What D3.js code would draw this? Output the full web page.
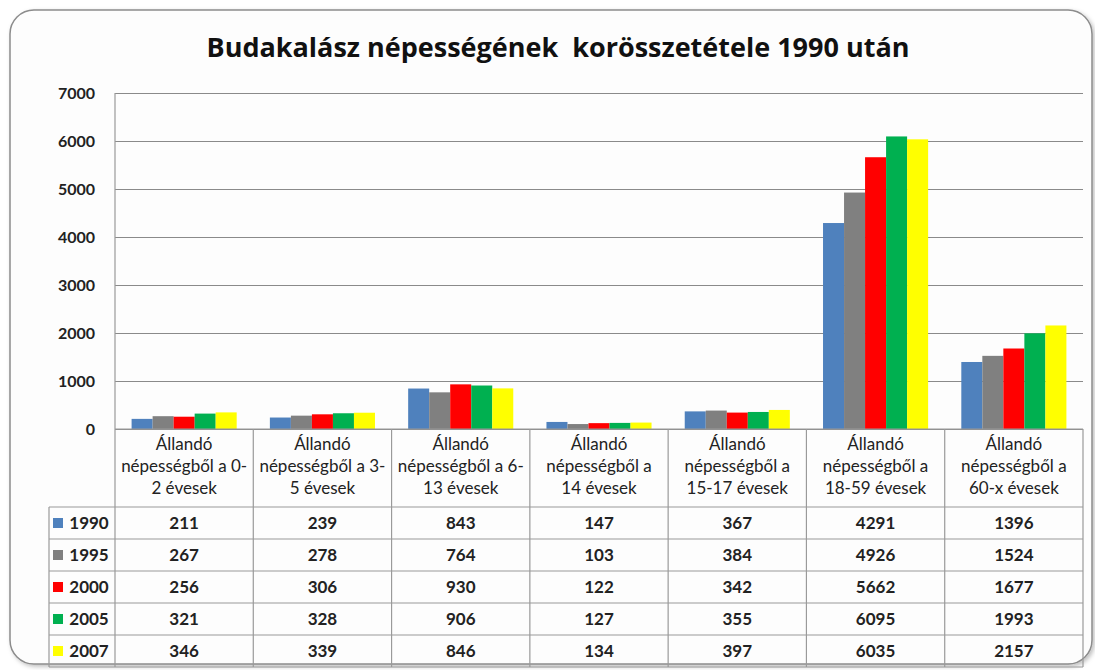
<!DOCTYPE html>
<html>
  <head>
    <meta charset="utf-8">
    <script src="https://d3js.org/d3.v7.min.js"></script>
    <style>
      body { margin: 0; background: #fff; }
    </style>
  </head>
  <body>
    <script>
      // data
      var categories = [
        ["Állandó", "népességből a 0-", "2 évesek"],
        ["Állandó", "népességből a 3-", "5 évesek"],
        ["Állandó", "népességből a 6-", "13 évesek"],
        ["Állandó", "népességből a", "14 évesek"],
        ["Állandó", "népességből a", "15-17 évesek"],
        ["Állandó", "népességből a", "18-59 évesek"],
        ["Állandó", "népességből a", "60-x évesek"]
      ];
      var years = ["1990", "1995", "2000", "2005", "2007"];
      var v1990 = [211, 239, 843, 147, 367, 4291, 1396];
      var v1995 = [267, 278, 764, 103, 384, 4926, 1524];
      var v2000 = [256, 306, 930, 122, 342, 5662, 1677];
      var v2005 = [321, 328, 906, 127, 355, 6095, 1993];
      var v2007 = [346, 339, 846, 134, 397, 6035, 2157];
      var colors = ["#4f81bd", "#808080", "#ff0000", "#00b050", "#ffff00"];
      var yTicks = [0, 1000, 2000, 3000, 4000, 5000, 6000, 7000];

      var series = [v1990, v1995, v2000, v2005, v2007];

      var W = 1095, H = 670;
      var plotLeft = 115, plotRight = 1083, plotTop = 93, base = 429;
      var rowH = 32, headH = 78, legendLeft = 49;
      var font = "Lato, 'Open Sans', sans-serif";

      var svg = d3.select("body").append("svg")
          .attr("width", W)
          .attr("height", H);

      // frame with rounded corners
      var defs = svg.append("defs");
      var f = defs.append("filter").attr("id", "sh")
          .attr("x", "-5%").attr("y", "-5%").attr("width", "110%").attr("height", "110%");
      f.append("feDropShadow").attr("dx", 2).attr("dy", 2)
          .attr("stdDeviation", 2).attr("flood-color", "#000").attr("flood-opacity", 0.25);

      svg.append("rect")
          .attr("x", 10).attr("y", 10)
          .attr("width", 1082).attr("height", 654)
          .attr("rx", 24).attr("ry", 24)
          .attr("fill", "#fdfdfd")
          .attr("stroke", "#8c8c8c")
          .attr("stroke-width", 1.5)
          .attr("filter", "url(#sh)");

      // title
      svg.append("text")
          .attr("x", 558).attr("y", 57)
          .attr("text-anchor", "middle")
          .style("font-family", "'Open Sans', Lato, sans-serif")
          .style("font-weight", "bold")
          .style("font-size", "27px")
          .style("fill", "#111")
          .style("white-space", "pre")
          .text("Budakalász népességének  korösszetétele 1990 után");

      // scales
      var x0 = d3.scaleBand()
          .domain(d3.range(categories.length))
          .range([plotLeft, plotRight])
          .padding(0);
      var bw = x0.bandwidth();
      var x1 = d3.scaleBand()
          .domain(years)
          .range([bw * 0.12, bw * 0.88])
          .padding(0);
      var y = d3.scaleLinear()
          .domain([0, 7000])
          .range([base, plotTop]);

      // gridlines
      svg.append("g")
          .attr("transform", "translate(" + plotLeft + ",0)")
          .call(d3.axisLeft(y).tickValues(yTicks).tickSize(-(plotRight - plotLeft)).tickFormat(""))
          .call(function(g) {
            g.select(".domain").remove();
            g.selectAll("line").attr("stroke", "#8a8a8a").attr("stroke-width", 1);
          });

      // y axis labels
      svg.append("g")
          .attr("transform", "translate(" + plotLeft + ",0)")
          .call(d3.axisLeft(y).tickValues(yTicks).tickSize(0).tickPadding(20).tickFormat(d3.format("d")))
          .call(function(g) {
            g.select(".domain").remove();
            g.selectAll("text")
              .style("font-family", font)
              .style("font-weight", "bold")
              .style("font-size", "16px")
              .style("fill", "#222");
          });

      // bars
      var groups = svg.append("g").selectAll("g")
          .data(categories)
          .join("g")
          .attr("transform", function(d, i) { return "translate(" + x0(i) + ",0)"; });

      groups.selectAll("rect")
          .data(function(d, i) {
            return years.map(function(yr, k) { return {year: yr, k: k, value: series[k][i]}; });
          })
          .join("rect")
          .attr("x", function(d) { return x1(d.year); })
          .attr("width", x1.bandwidth())
          .attr("y", function(d) { return y(d.value); })
          .attr("height", function(d) { return base - y(d.value); })
          .attr("fill", function(d) { return colors[d.k]; });

      // data table
      var tableBottom = base + headH + rowH * years.length;
      var tbl = svg.append("g")
          .attr("stroke", "#9a9a9a")
          .attr("stroke-width", 1.2);

      // horizontal lines
      tbl.append("line")
          .attr("x1", plotLeft).attr("x2", plotRight)
          .attr("y1", base).attr("y2", base);
      d3.range(years.length + 1).forEach(function(r) {
        var yy = base + headH + r * rowH;
        tbl.append("line")
            .attr("x1", legendLeft).attr("x2", plotRight)
            .attr("y1", yy).attr("y2", yy);
      });

      // vertical lines
      tbl.append("line")
          .attr("x1", plotLeft).attr("x2", plotLeft)
          .attr("y1", plotTop).attr("y2", tableBottom);
      tbl.append("line")
          .attr("x1", legendLeft).attr("x2", legendLeft)
          .attr("y1", base + headH).attr("y2", tableBottom);
      categories.forEach(function(c, i) {
        var xx = x0(i) + bw;
        tbl.append("line")
            .attr("x1", xx).attr("x2", xx)
            .attr("y1", base).attr("y2", tableBottom);
      });

      // header labels
      var head = svg.append("g");
      categories.forEach(function(lines, i) {
        var t = head.append("text")
            .attr("x", x0(i) + bw / 2)
            .attr("y", base + 21)
            .attr("text-anchor", "middle")
            .style("font-family", font)
            .style("font-size", "17px")
            .style("fill", "#222");
        lines.forEach(function(s, j) {
          t.append("tspan")
              .attr("x", x0(i) + bw / 2)
              .attr("dy", j === 0 ? 0 : 22)
              .text(s);
        });
      });

      // legend keys + values
      years.forEach(function(yr, k) {
        var rowY = base + headH + k * rowH;
        svg.append("rect")
            .attr("x", 53).attr("y", rowY + 11)
            .attr("width", 10).attr("height", 10)
            .attr("fill", colors[k]);
        svg.append("text")
            .attr("x", 89).attr("y", rowY + 22)
            .attr("text-anchor", "middle")
            .style("font-family", font)
            .style("font-weight", "bold")
            .style("font-size", "17px")
            .style("fill", "#222")
            .text(yr);
        series[k].forEach(function(v, i) {
          svg.append("text")
              .attr("x", x0(i) + bw / 2)
              .attr("y", rowY + 22)
              .attr("text-anchor", "middle")
              .style("font-family", font)
              .style("font-weight", "bold")
              .style("font-size", "17px")
              .style("fill", "#222")
              .text(v);
        });
      });
    </script>
  </body>
</html>
